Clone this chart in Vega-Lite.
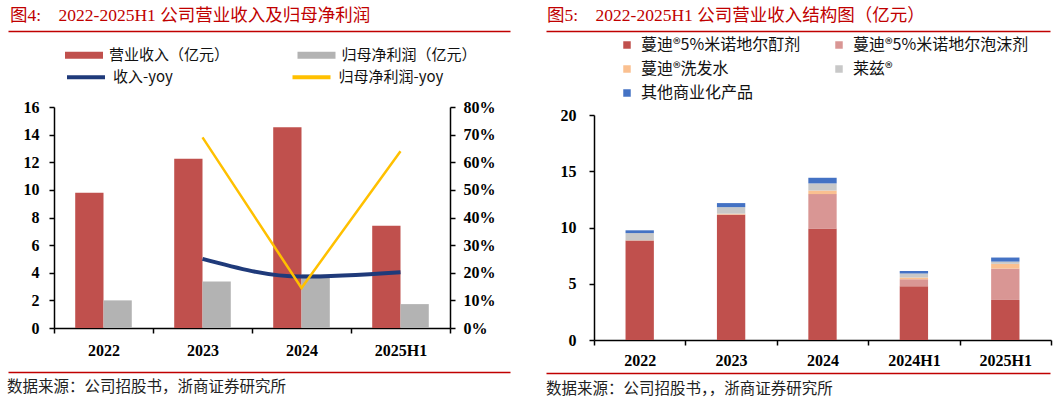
{
  "$schema": "https://vega.github.io/schema/vega-lite/v6.json",
  "background": "white",
  "padding": {"left": 5, "top": 6, "right": 0, "bottom": 0},
  "autosize": {"type": "pad"},
  "config": {"view": {"stroke": null}, "axis": {"grid": false}, "font": "Liberation Serif"},
  "resolve": {"scale": {"fill": "independent", "stroke": "independent", "color": "independent"}, "legend": {"fill": "independent", "stroke": "independent"}},
  "datasets": {
    "fin": [
      {"year": "2022", "series": "营业收入（亿元）", "value": 9.80},
      {"year": "2022", "series": "归母净利润（亿元）", "value": 2.00},
      {"year": "2023", "series": "营业收入（亿元）", "value": 12.25},
      {"year": "2023", "series": "归母净利润（亿元）", "value": 3.37},
      {"year": "2024", "series": "营业收入（亿元）", "value": 14.54},
      {"year": "2024", "series": "归母净利润（亿元）", "value": 3.87},
      {"year": "2025H1", "series": "营业收入（亿元）", "value": 7.40},
      {"year": "2025H1", "series": "归母净利润（亿元）", "value": 1.73}
    ],
    "revYoy": [
      {"year": "2023", "series": "收入-yoy", "yoy": 0.25},
      {"year": "2024", "series": "收入-yoy", "yoy": 0.186},
      {"year": "2025H1", "series": "收入-yoy", "yoy": 0.202}
    ],
    "npYoy": [
      {"year": "2023", "series": "归母净利润-yoy", "yoy": 0.69},
      {"year": "2024", "series": "归母净利润-yoy", "yoy": 0.145},
      {"year": "2025H1", "series": "归母净利润-yoy", "yoy": 0.64}
    ],
    "rev": [
      {"year": "2022", "product": "蔓迪®5%米诺地尔酊剂", "rank": 1, "value": 8.84},
      {"year": "2022", "product": "蔓迪®5%米诺地尔泡沫剂", "rank": 2, "value": 0},
      {"year": "2022", "product": "蔓迪®洗发水", "rank": 3, "value": 0.02},
      {"year": "2022", "product": "莱兹®", "rank": 4, "value": 0.64},
      {"year": "2022", "product": "其他商业化产品", "rank": 5, "value": 0.25},
      {"year": "2023", "product": "蔓迪®5%米诺地尔酊剂", "rank": 1, "value": 11.13},
      {"year": "2023", "product": "蔓迪®5%米诺地尔泡沫剂", "rank": 2, "value": 0.02},
      {"year": "2023", "product": "蔓迪®洗发水", "rank": 3, "value": 0.08},
      {"year": "2023", "product": "莱兹®", "rank": 4, "value": 0.58},
      {"year": "2023", "product": "其他商业化产品", "rank": 5, "value": 0.36},
      {"year": "2024", "product": "蔓迪®5%米诺地尔酊剂", "rank": 1, "value": 9.91},
      {"year": "2024", "product": "蔓迪®5%米诺地尔泡沫剂", "rank": 2, "value": 3.06},
      {"year": "2024", "product": "蔓迪®洗发水", "rank": 3, "value": 0.32},
      {"year": "2024", "product": "莱兹®", "rank": 4, "value": 0.63},
      {"year": "2024", "product": "其他商业化产品", "rank": 5, "value": 0.50},
      {"year": "2024H1", "product": "蔓迪®5%米诺地尔酊剂", "rank": 1, "value": 4.78},
      {"year": "2024H1", "product": "蔓迪®5%米诺地尔泡沫剂", "rank": 2, "value": 0.62},
      {"year": "2024H1", "product": "蔓迪®洗发水", "rank": 3, "value": 0.15},
      {"year": "2024H1", "product": "莱兹®", "rank": 4, "value": 0.36},
      {"year": "2024H1", "product": "其他商业化产品", "rank": 5, "value": 0.23},
      {"year": "2025H1", "product": "蔓迪®5%米诺地尔酊剂", "rank": 1, "value": 3.56},
      {"year": "2025H1", "product": "蔓迪®5%米诺地尔泡沫剂", "rank": 2, "value": 2.79},
      {"year": "2025H1", "product": "蔓迪®洗发水", "rank": 3, "value": 0.42},
      {"year": "2025H1", "product": "莱兹®", "rank": 4, "value": 0.20},
      {"year": "2025H1", "product": "其他商业化产品", "rank": 5, "value": 0.36}
    ],
    "dummy": [{"v": 0}]
  },
  "align": "each",
  "spacing": -13,
  "hconcat": [
    {
      "spacing": 0,
      "resolve": {"scale": {"fill": "independent", "stroke": "independent"}, "legend": {"fill": "independent", "stroke": "independent"}},
      "vconcat": [
        {
          "width": 396, "height": 13.5,
          "title": {"text": "图4:\u20032022-2025H1 公司营业收入及归母净利润", "anchor": "start", "frame": "group", "dx": -44, "offset": 7, "color": "#C00000", "font": "Liberation Serif, Noto Sans CJK SC", "fontSize": 17.5, "fontWeight": "normal"},
          "data": {"name": "dummy"},
          "mark": {"type": "point", "opacity": 0},
          "encoding": {
            "x": {"field": "v", "type": "quantitative", "scale": {"domain": [0, 1], "range": [-46, 456]}, "axis": {"orient": "top", "domainColor": "#C00000", "domainWidth": 1.5, "ticks": false, "labels": false, "title": null, "grid": false}}
          }
        },
        {
          "width": 396, "height": 221,
          "resolve": {"scale": {"y": "independent"}},
          "layer": [
            {
              "data": {"name": "fin"},
              "mark": {"type": "bar"},
              "encoding": {
                "x": {"field": "year", "type": "nominal", "scale": {"domain": ["2022", "2023", "2024", "2025H1"], "paddingInner": 0, "paddingOuter": 0},
                  "axis": {"title": null, "labelAngle": 0, "tickBand": "extent", "domainColor": "black", "domainWidth": 1.5, "tickColor": "black", "tickSize": 5, "tickWidth": 1.5, "labelFont": "Liberation Serif", "labelFontWeight": "bold", "labelFontSize": 16, "labelColor": "black", "labelPadding": 9}},
                "xOffset": {"field": "series", "type": "nominal", "scale": {"domain": ["营业收入（亿元）", "归母净利润（亿元）"], "paddingInner": 0, "paddingOuter": 0.75}},
                "y": {"field": "value", "type": "quantitative", "scale": {"domain": [0, 16]},
                  "axis": {"orient": "left", "title": null, "values": [0, 2, 4, 6, 8, 10, 12, 14, 16], "domainColor": "black", "domainWidth": 1.5, "tickColor": "black", "tickSize": 5, "tickWidth": 1.5, "labelFont": "Liberation Serif", "labelFontWeight": "bold", "labelFontSize": 16, "labelColor": "black", "labelPadding": 10}},
                "fill": {"field": "series", "type": "nominal", "scale": {"domain": ["营业收入（亿元）", "归母净利润（亿元）"], "range": ["#C0504D", "#B3B3B3"]},
                  "legend": {"orient": "none", "legendX": 20.5, "legendY": -61.5, "direction": "horizontal", "columns": 2, "columnPadding": 67.5, "title": null, "symbolType": "M-2,-0.36H2V0.36H-2Z", "symbolSize": 361, "symbolStrokeWidth": 0, "labelFont": "Noto Sans CJK SC", "labelFontSize": 15, "labelColor": "#111", "labelOffset": 15.5}}
              }
            },
            {
              "layer": [
                {
                  "data": {"name": "revYoy"},
                  "mark": {"type": "line", "interpolate": "monotone", "strokeWidth": 4},
                  "encoding": {
                    "x": {"field": "year", "type": "nominal"},
                    "y": {"field": "yoy", "type": "quantitative", "scale": {"domain": [0, 0.8]},
                      "axis": {"orient": "right", "title": null, "format": ".0%", "values": [0, 0.1, 0.2, 0.3, 0.4, 0.5, 0.6, 0.7, 0.8], "domainColor": "black", "domainWidth": 1.5, "tickColor": "black", "tickSize": 5, "tickWidth": 1.5, "labelFont": "Liberation Serif", "labelFontWeight": "bold", "labelFontSize": 16, "labelColor": "black", "labelPadding": 8}},
                    "stroke": {"field": "series", "type": "nominal", "scale": {"domain": ["收入-yoy", "归母净利润-yoy"], "range": ["#1F3A7A", "#FFC000"]},
                      "legend": {"orient": "none", "legendX": 20.5, "legendY": -41.5, "direction": "horizontal", "columns": 2, "columnPadding": 110.5, "title": null, "symbolType": "M-2,0H2", "symbolSize": 361, "symbolStrokeWidth": 4, "labelFont": "Noto Sans CJK SC", "labelFontSize": 15, "labelColor": "#111", "labelOffset": 15.5}}
                  }
                },
                {
                  "data": {"name": "npYoy"},
                  "mark": {"type": "line", "strokeWidth": 2.5},
                  "encoding": {
                    "x": {"field": "year", "type": "nominal"},
                    "y": {"field": "yoy", "type": "quantitative", "scale": {"domain": [0, 0.8]},
                      "axis": {"orient": "right", "title": null, "format": ".0%", "values": [0, 0.1, 0.2, 0.3, 0.4, 0.5, 0.6, 0.7, 0.8], "domainColor": "black", "domainWidth": 1.5, "tickColor": "black", "tickSize": 5, "tickWidth": 1.5, "labelFont": "Liberation Serif", "labelFontWeight": "bold", "labelFontSize": 16, "labelColor": "black", "labelPadding": 8}},
                    "stroke": {"field": "series", "type": "nominal", "scale": {"domain": ["收入-yoy", "归母净利润-yoy"], "range": ["#1F3A7A", "#FFC000"]},
                      "legend": {"orient": "none", "legendX": 20.5, "legendY": -41.5, "direction": "horizontal", "columns": 2, "columnPadding": 110.5, "title": null, "symbolType": "M-2,0H2", "symbolSize": 361, "symbolStrokeWidth": 4, "labelFont": "Noto Sans CJK SC", "labelFontSize": 15, "labelColor": "#111", "labelOffset": 15.5}}
                  }
                }
              ]
            }
          ]
        },
        {
          "width": 396, "height": 14,
          "title": {"text": "数据来源：公司招股书，浙商证券研究所", "orient": "bottom", "anchor": "start", "frame": "group", "dx": -47, "offset": 8, "color": "#222", "font": "Noto Sans CJK SC", "fontSize": 15.5, "fontWeight": "normal"},
          "data": {"name": "dummy"},
          "mark": {"type": "point", "opacity": 0},
          "encoding": {
            "x": {"field": "v", "type": "quantitative", "scale": {"domain": [0, 1], "range": [-46, 456]}, "axis": {"orient": "bottom", "domainColor": "#C00000", "domainWidth": 1.5, "ticks": false, "labels": false, "title": null, "grid": false}}
          }
        }
      ]
    },
    {
      "spacing": 0,
      "resolve": {"scale": {"fill": "independent"}, "legend": {"fill": "independent"}},
      "vconcat": [
        {
          "width": 457, "height": 6,
          "title": {"text": "图5:\u20032022-2025H1 公司营业收入结构图（亿元）", "anchor": "start", "frame": "group", "dx": -47, "offset": 7, "color": "#C00000", "font": "Liberation Serif, Noto Sans CJK SC", "fontSize": 17.5, "fontWeight": "normal"},
          "data": {"name": "dummy"},
          "mark": {"type": "point", "opacity": 0},
          "encoding": {
            "x": {"field": "v", "type": "quantitative", "scale": {"domain": [0, 1], "range": [-48, 456]}, "axis": {"orient": "top", "domainColor": "#C00000", "domainWidth": 1.5, "ticks": false, "labels": false, "title": null, "grid": false}}
          }
        },
        {
          "width": 457, "height": 225,
          "data": {"name": "rev"},
          "mark": {"type": "bar", "width": {"band": 0.31}},
          "encoding": {
            "x": {"field": "year", "type": "nominal", "scale": {"domain": ["2022", "2023", "2024", "2024H1", "2025H1"], "paddingInner": 0, "paddingOuter": 0},
              "axis": {"title": null, "labelAngle": 0, "tickBand": "extent", "domainColor": "black", "domainWidth": 1.5, "tickColor": "black", "tickSize": 5, "tickWidth": 1.5, "labelFont": "Liberation Serif", "labelFontWeight": "bold", "labelFontSize": 16, "labelColor": "black", "labelPadding": 7}},
            "y": {"field": "value", "type": "quantitative", "stack": "zero", "scale": {"domain": [0, 20]},
              "axis": {"title": null, "values": [0, 5, 10, 15, 20], "domainColor": "black", "domainWidth": 1.5, "tickColor": "black", "tickSize": 5, "tickWidth": 1.5, "labelFont": "Liberation Serif", "labelFontWeight": "bold", "labelFontSize": 16, "labelColor": "black", "labelPadding": 13}},
            "fill": {"field": "product", "type": "nominal",
              "scale": {"domain": ["蔓迪®5%米诺地尔酊剂", "蔓迪®5%米诺地尔泡沫剂", "蔓迪®洗发水", "莱兹®", "其他商业化产品"], "range": ["#C0504D", "#D99694", "#FAC090", "#C8C8C8", "#4472C4"]},
              "legend": {"orient": "none", "legendX": 25, "legendY": -78, "direction": "horizontal", "columns": 2, "columnPadding": 30, "rowPadding": 8, "title": null, "symbolType": "square", "symbolSize": 56, "symbolStrokeWidth": 0, "labelFont": "Noto Sans CJK SC", "labelFontSize": 16, "labelColor": "#111", "labelOffset": 6, "labelLimit": 220}},
            "order": {"field": "rank", "type": "quantitative", "sort": "ascending"}
          }
        },
        {
          "width": 457, "height": 4,
          "title": {"text": "数据来源：公司招股书，，浙商证券研究所", "orient": "bottom", "anchor": "start", "frame": "group", "dx": -48, "offset": 8, "color": "#222", "font": "Noto Sans CJK SC", "fontSize": 15.5, "fontWeight": "normal"},
          "data": {"name": "dummy"},
          "mark": {"type": "point", "opacity": 0},
          "encoding": {
            "x": {"field": "v", "type": "quantitative", "scale": {"domain": [0, 1], "range": [-48, 456]}, "axis": {"orient": "bottom", "domainColor": "#C00000", "domainWidth": 1.5, "ticks": false, "labels": false, "title": null, "grid": false}}
          }
        }
      ]
    }
  ]
}
